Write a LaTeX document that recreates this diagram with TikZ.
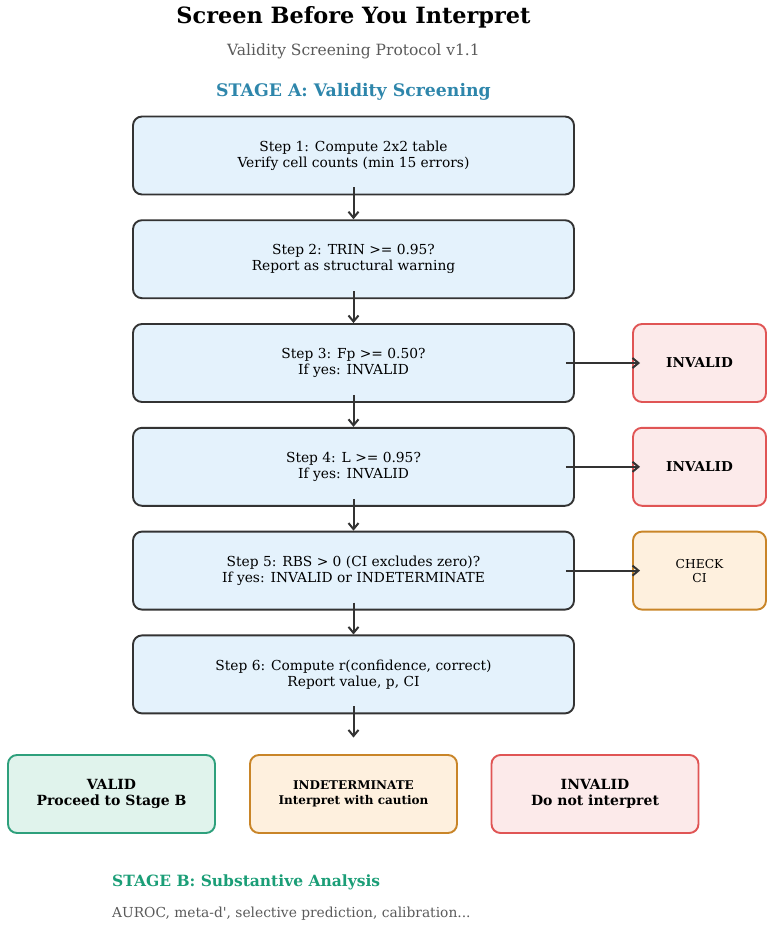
\documentclass[tikz,border=0pt]{standalone}
\usepackage{fontspec}
\setmainfont{DejaVu Serif}
\usetikzlibrary{arrows.meta}
\definecolor{boxline}{HTML}{333333}
\definecolor{stepfill}{HTML}{E4F2FC}
\definecolor{redline}{HTML}{E05555}
\definecolor{redfill}{HTML}{FCEAEA}
\definecolor{orline}{HTML}{C98528}
\definecolor{orfill}{HTML}{FEF0DE}
\definecolor{grline}{HTML}{2EA07C}
\definecolor{grfill}{HTML}{E0F3EC}
\definecolor{stageA}{HTML}{2E86AB}
\definecolor{stageB}{HTML}{1B9E77}
\definecolor{greytext}{HTML}{5A5A5A}
\tikzset{
  base/.style={rounded corners=9pt, line width=1.9pt, align=center, inner sep=0pt},
  stepbox/.style={base, draw=boxline, fill=stepfill, minimum width=441pt, minimum height=78pt,
    font=\fontsize{13.8}{16.2}\selectfont},
  sidered/.style={base, draw=redline, fill=redfill, minimum width=133pt, minimum height=78pt,
    font=\fontsize{13.6}{16}\selectfont\bfseries},
  sideor/.style={base, draw=orline, fill=orfill, minimum width=133pt, minimum height=78pt,
    font=\fontsize{12.3}{14}\selectfont},
  outbox/.style={base, minimum width=207pt, minimum height=78pt},
  arr/.style={draw=boxline, line width=2pt, -{Straight Barb[length=6pt,width=10pt,line width=2pt]}},
}
\begin{document}
\begin{tikzpicture}[x=1pt,y=-1pt]
\useasboundingbox (0,0) rectangle (774,927);
\node[font=\fontsize{22.4}{26}\selectfont\bfseries] (title) at (353.5,17.5) {Screen Before You Interpret};
\node[font=\fontsize{15.5}{18}\selectfont, text=greytext] (sub) at (353.5,51.5) {Validity Screening Protocol v1.1};
\node[font=\fontsize{17.3}{20}\selectfont\bfseries, text=stageA] (stA) at (353.5,91.5) {STAGE A: Validity Screening};

\node[stepbox] (s1) at (353.5,155.5) {Step 1: Compute 2x2 table\\Verify cell counts (min 15 errors)};
\node[stepbox] (s2) at (353.5,259.2) {Step 2: TRIN >= 0.95?\\Report as structural warning};
\node[stepbox] (s3) at (353.5,363) {Step 3: Fp >= 0.50?\\If yes: INVALID};
\node[stepbox] (s4) at (353.5,466.8) {Step 4: L >= 0.95?\\If yes: INVALID};
\node[stepbox] (s5) at (353.5,570.6) {Step 5: RBS > 0 (CI excludes zero)?\\If yes: INVALID or INDETERMINATE};
\node[stepbox] (s6) at (353.5,674.4) {Step 6: Compute r(confidence, correct)\\Report value, p, CI};

\node[sidered] (i3) at (699.5,363) {INVALID};
\node[sidered] (i4) at (699.5,466.8) {INVALID};
\node[sideor] (c5) at (699.5,570.6) {CHECK\\CI};

\node[outbox, draw=grline, fill=grfill, font=\fontsize{14}{16.5}\selectfont\bfseries] (valid) at (111.5,794) {VALID\\Proceed to Stage B};
\node[outbox, draw=orline, fill=orfill, font=\fontsize{12}{14.5}\selectfont\bfseries] (indet) at (353.5,794) {INDETERMINATE\\Interpret with caution};
\node[outbox, draw=redline, fill=redfill, font=\fontsize{14}{16.5}\selectfont\bfseries] (inval) at (595,794) {INVALID\\Do not interpret};

\coordinate (end6) at (353.5,737.5);

\draw[arr] ([yshift=8pt]s1.south) -- (s2.north);
\draw[arr] ([yshift=8pt]s2.south) -- (s3.north);
\draw[arr] ([yshift=8pt]s3.south) -- (s4.north);
\draw[arr] ([yshift=8pt]s4.south) -- (s5.north);
\draw[arr] ([yshift=8pt]s5.south) -- (s6.north);
\draw[arr] ([yshift=8pt]s6.south) -- (end6);

\draw[arr] ([xshift=-9pt]s3.east) -- ([xshift=8pt]i3.west);
\draw[arr] ([xshift=-9pt]s4.east) -- ([xshift=8pt]i4.west);
\draw[arr] ([xshift=-9pt]s5.east) -- ([xshift=8pt]c5.west);

\node[anchor=west, font=\fontsize{15.5}{18}\selectfont\bfseries, text=stageB, inner sep=0pt] (stB) at (112,882) {STAGE B: Substantive Analysis};
\node[anchor=west, font=\fontsize{13.8}{16}\selectfont\addfontfeature{Ligatures=TeXOff}, text=greytext, inner sep=0pt] (stBtext) at (112,914) {AUROC, meta-d', selective prediction, calibration...};
\end{tikzpicture}
\end{document}
